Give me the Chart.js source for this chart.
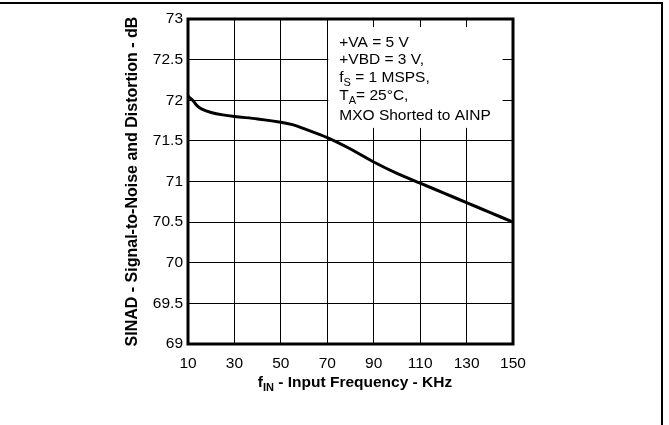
<!DOCTYPE html>
<html>
<head>
<meta charset="utf-8">
<script src="https://cdn.jsdelivr.net/npm/chart.js@4"></script>
<style>
  html, body { margin: 0; padding: 0; background: #fff; }
  #wrap { width: 669px; height: 425px; position: relative; }
</style>
</head>
<body>
<div id="wrap"><canvas id="sinadChart" width="669" height="425"></canvas></div>
<script>
// input frequency (KHz) and SINAD (dB)
const freqKHz = [10, 12, 14, 16, 20, 25, 30, 40, 50, 55, 60, 70, 80, 90, 100, 110, 120, 130, 140, 150];
const sinadDb = [72.05, 72.0, 71.93, 71.89, 71.85, 71.82, 71.80, 71.77, 71.73, 71.70, 71.65, 71.54, 71.40, 71.24, 71.10, 70.98, 70.86, 70.74, 70.62, 70.50];

const xTicks = [10, 30, 50, 70, 90, 110, 130, 150];
const yTicks = [69, 69.5, 70, 70.5, 71, 71.5, 72, 72.5, 73];

const yTitle = 'SINAD - Signal-to-Noise and Distortion - dB';
// each line: [main text, subscript, rest]
const noteLines = [
    ['+VA = 5 V', '', ''],
    ['+VBD = 3 V,', '', ''],
    ['f', 'S', ' = 1 MSPS,'],
    ['T', 'A', '= 25°C,'],
    ['MXO Shorted to AINP', '', ''],
];

const FONT = '"Liberation Sans", Arial, sans-serif';

const points = freqKHz.map((f, i) => ({ x: f, y: sinadDb[i] }));

// draws text with an optional subscript part
function drawSubText(ctx, x, y, parts, size, weight) {
    ctx.font = weight + ' ' + size + 'px ' + FONT;
    ctx.fillText(parts[0], x, y);
    x += ctx.measureText(parts[0]).width;
    if (parts[1]) {
        ctx.font = weight + ' ' + Math.round(size * 0.72) + 'px ' + FONT;
        ctx.fillText(parts[1], x, y + size * 0.3);
        x += ctx.measureText(parts[1]).width;
    }
    ctx.font = weight + ' ' + size + 'px ' + FONT;
    ctx.fillText(parts[2], x, y);
}

function measureSub(ctx, parts, size, weight) {
    ctx.font = weight + ' ' + size + 'px ' + FONT;
    let w = ctx.measureText(parts[0]).width + ctx.measureText(parts[2]).width;
    ctx.font = weight + ' ' + Math.round(size * 0.72) + 'px ' + FONT;
    w += ctx.measureText(parts[1]).width;
    return w;
}

const notePlugin = {
    id: 'notes',
    beforeDatasetsDraw(chart) {
        const ctx = chart.ctx;
        const xs = chart.scales.x, ys = chart.scales.y;
        // white box covering the grid behind the conditions text
        const left = xs.getPixelForValue(70) + 1;
        const right = xs.getPixelForValue(145.5);
        const top = ys.getPixelForValue(72.9);
        const bottom = ys.getPixelForValue(71.66);
        ctx.save();
        ctx.fillStyle = '#fff';
        ctx.fillRect(left, top, right - left, bottom - top);
        ctx.fillStyle = '#000';
        ctx.textBaseline = 'middle';
        const ys0 = [43, 60, 78, 96, 116];
        noteLines.forEach((ln, i) => drawSubText(ctx, left + 11, ys0[i], ln, 15.5, 'normal'));
        ctx.restore();
    },
    afterDraw(chart) {
        const ctx = chart.ctx;
        const a = chart.chartArea;
        ctx.save();
        // plot frame
        ctx.strokeStyle = '#000';
        ctx.lineWidth = 3;
        ctx.strokeRect(a.left, a.top, a.right - a.left, a.bottom - a.top);
        // outer page frame (top and right only)
        ctx.lineWidth = 2;
        ctx.beginPath();
        ctx.moveTo(0, 3);
        ctx.lineTo(662, 3);
        ctx.lineTo(662, chart.height);
        ctx.stroke();
        // x title with subscript
        ctx.fillStyle = '#000';
        ctx.textBaseline = 'middle';
        const parts = ['f', 'IN', ' - Input Frequency - KHz'];
        const w = measureSub(ctx, parts, 15.5, 'bold');
        drawSubText(ctx, 355 - w / 2, 383, parts, 15.5, 'bold');
        ctx.restore();
    }
};

const ctx = document.getElementById('sinadChart').getContext('2d');
const sinadChart = new Chart(ctx, {
    type: 'line',
    data: {
        datasets: [{
            data: points,
            borderColor: '#000',
            borderWidth: 3,
            pointRadius: 0,
            tension: 0.35,
            fill: false,
        }],
    },
    options: {
        responsive: false,
        animation: false,
        devicePixelRatio: 1,
        layout: { padding: { left: 119, right: 156, top: 19, bottom: 29 } },
        plugins: { legend: { display: false }, tooltip: { enabled: false } },
        scales: {
            x: {
                type: 'linear',
                min: 10,
                max: 150,
                afterBuildTicks: s => { s.ticks = xTicks.map(v => ({ value: v })); },
                afterFit: s => { s.height = 52; },
                grid: { color: '#000', lineWidth: 1, drawTicks: false },
                border: { display: false },
                ticks: { color: '#000', padding: 10, maxRotation: 0, font: { family: FONT, size: 15.5 },
                         callback: v => String(v) },
            },
            y: {
                min: 69,
                max: 73,
                afterBuildTicks: s => { s.ticks = yTicks.map(v => ({ value: v })); },
                afterFit: s => { s.width = 69; },
                grid: { color: '#000', lineWidth: 1, drawTicks: false },
                border: { display: false },
                ticks: { color: '#000', padding: 5, font: { family: FONT, size: 15.5 },
                         callback: v => String(v) },
                title: {
                    display: true,
                    text: yTitle,
                    color: '#000',
                    padding: { top: 4, bottom: 4 },
                    font: { family: FONT, size: 16, weight: 'bold' },
                },
            },
        },
    },
    plugins: [notePlugin],
});
</script>
</body>
</html>
